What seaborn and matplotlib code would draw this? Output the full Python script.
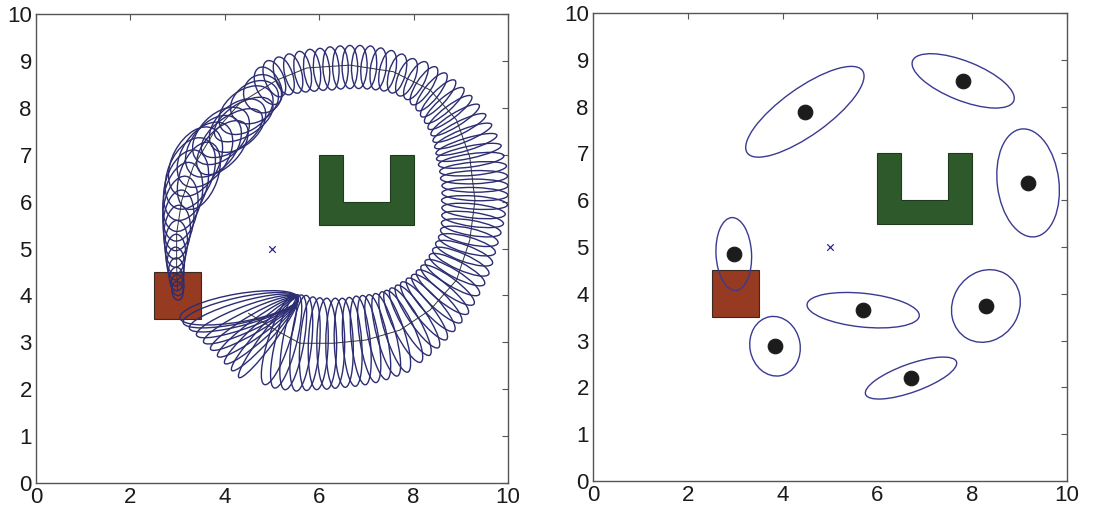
import numpy as np
import pandas as pd
import matplotlib
matplotlib.use("Agg")
import matplotlib.pyplot as plt
from matplotlib.patches import Ellipse, Rectangle, Polygon
import seaborn as sns

# ---------------- data ----------------
# nominal trajectory (left panel), start at red box, loop clockwise
path_x = [3.00, 2.98, 2.98, 3.09, 3.33, 3.76, 4.32, 5.10, 5.74, 6.65, 7.57, 8.35,
          8.91, 9.19, 9.30, 9.19, 8.91, 8.35, 7.71, 7.00, 6.30, 5.59, 5.10, 4.50]
path_y = [4.11, 4.61, 5.33, 6.03, 6.74, 7.46, 8.10, 8.59, 8.85, 8.91, 8.77, 8.38,
          7.74, 6.95, 6.03, 5.18, 4.33, 3.69, 3.26, 3.05, 2.98, 2.98, 3.25, 3.62]

# covariance ellipses along the trajectory: centre, width, height, angle(deg)
ell_x = [3.00, 3.00, 2.98, 2.97, 2.96, 2.96, 2.97, 2.99, 3.02, 3.06, 3.11, 3.18, 3.27,
         3.45, 3.38, 3.58, 3.76, 3.95, 3.92, 4.15, 4.27, 4.40, 4.45, 4.63, 4.80, 4.92,
         5.05, 5.25, 5.45, 5.65, 5.85, 6.05, 6.25, 6.45, 6.65, 6.85, 7.05, 7.25, 7.45, 7.65, 7.85,
         8.05, 8.22, 8.38, 8.52, 8.65, 8.77, 8.88, 8.97, 9.05, 9.12, 9.17,
         9.22, 9.26, 9.28, 9.30, 9.30, 9.29, 9.27, 9.25, 9.22, 9.18,
         9.13, 9.07, 9.00, 8.92, 8.82, 8.72, 8.61, 8.49, 8.36, 8.22, 8.08, 7.93, 7.78,
         7.60, 7.42, 7.24, 7.06, 6.88, 6.70, 6.52, 6.34, 6.16, 5.98, 5.80, 5.62, 5.45, 5.30, 5.15,
         4.925, 4.85, 4.775, 4.70, 4.625, 4.55, 4.475, 4.40, 4.335, 4.30]
ell_y = [4.10, 4.22, 4.35, 4.50, 4.68, 4.88, 5.10, 5.35, 5.60, 5.85, 6.10, 6.35, 6.60,
         6.55, 6.85, 7.00, 7.18, 7.15, 7.40, 7.46, 7.62, 7.75, 7.95, 8.12, 8.30, 8.47,
         8.62, 8.68, 8.73, 8.77, 8.80, 8.82, 8.84, 8.86, 8.87, 8.87, 8.86, 8.83, 8.79, 8.73, 8.65,
         8.58, 8.47, 8.34, 8.20, 8.05, 7.90, 7.74, 7.57, 7.40, 7.22, 7.05,
         6.88, 6.70, 6.52, 6.34, 6.16, 5.98, 5.80, 5.62, 5.44, 5.26,
         5.08, 4.90, 4.72, 4.55, 4.38, 4.22, 4.07, 3.93, 3.80, 3.67, 3.55, 3.44, 3.34,
         3.22, 3.16, 3.11, 3.07, 3.04, 3.01, 2.99, 2.98, 2.97, 2.97, 2.97, 2.98, 3.00, 3.02, 3.05,
         3.10, 3.175, 3.25, 3.325, 3.40, 3.475, 3.55, 3.625, 3.685, 3.735]
ell_w = [0.40, 0.45, 0.50, 0.60, 0.70, 0.85, 1.00, 1.15, 1.30, 1.40, 1.50, 1.55, 1.60,
         1.50, 1.60, 1.55, 1.50, 1.40, 1.45, 1.50, 1.40, 1.40, 1.30, 1.10, 0.80, 0.50,
         0.40, 0.38, 0.36, 0.35, 0.35, 0.34, 0.34, 0.33, 0.33, 0.33, 0.33, 0.33, 0.34, 0.35, 0.36,
         0.35, 0.33, 0.32, 0.30, 0.30, 0.28, 0.28, 0.27, 0.27, 0.26, 0.26,
         0.28, 0.28, 0.28, 0.28, 0.28, 0.28, 0.30, 0.30, 0.32, 0.34,
         0.34, 0.35, 0.35, 0.35, 0.35, 0.36, 0.36, 0.36, 0.37, 0.37, 0.38, 0.38, 0.40,
         0.40, 0.40, 0.40, 0.40, 0.40, 0.40, 0.40, 0.40, 0.42, 0.42, 0.42, 0.44, 0.45, 0.45, 0.45,
         2.11, 2.09, 2.09, 2.11, 2.15, 2.21, 2.29, 2.39, 2.49, 2.54]
ell_h = [0.24, 0.27, 0.30, 0.33, 0.37, 0.42, 0.48, 0.56, 0.64, 0.72, 0.80, 0.88, 0.95,
         0.80, 0.98, 0.96, 0.94, 0.75, 0.92, 0.72, 0.88, 0.70, 0.84, 0.82, 0.82, 0.86,
         0.82, 0.84, 0.86, 0.88, 0.90, 0.90, 0.92, 0.92, 0.92, 0.92, 0.92, 0.90, 0.88, 0.86, 0.85,
         0.90, 0.95, 1.00, 1.05, 1.10, 1.15, 1.20, 1.25, 1.30, 1.35, 1.40,
         1.40, 1.42, 1.42, 1.40, 1.40, 1.40, 1.35, 1.32, 1.28, 1.25,
         1.25, 1.28, 1.30, 1.32, 1.35, 1.38, 1.42, 1.45, 1.50, 1.55, 1.60, 1.65, 1.70,
         1.80, 1.82, 1.85, 1.88, 1.90, 1.90, 1.90, 1.92, 1.94, 1.96, 2.00, 2.05, 2.05, 2.05, 2.00,
         0.30, 0.32, 0.34, 0.36, 0.38, 0.42, 0.46, 0.50, 0.55, 0.60]
ell_a = [95, 95, 92, 90, 90, 88, 87, 85, 83, 80, 77, 73, 68,
         70, 62, 56, 52, 48, 46, 35, 42, 32, 38, 35, 30, 27,
         22, 18, 14, 10, 7, 5, 3, 1, 0, -2, -5, -8, -12, -16, -22,
         -28, -33, -38, -43, -48, -53, -58, -63, -68, -73, -78,
         -82, -85, -88, -90, -92, -94, -96, -98, -100, -103,
         -106, -110, -114, -118, -122, -126, -130, -134, -138, -142, -146, -150, -154,
         18, 15, 12, 9, 6, 4, 2, 0, 0, -2, -4, -6, -10, -14, -18,
         53.7, 47.9, 42.1, 36.3, 30.7, 25.4, 20.4, 15.8, 12.3, 9.8]

# right panel: landmark estimates with their uncertainty ellipses
lm_x = [4.47, 7.81, 9.18, 2.97, 3.84, 5.70, 8.29, 6.71]
lm_y = [7.89, 8.55, 6.37, 4.85, 2.88, 3.65, 3.74, 2.20]
lm_w = [3.00, 2.30, 2.32, 1.56, 1.28, 2.38, 1.60, 2.04]
lm_h = [1.00, 0.84, 1.30, 0.75, 1.06, 0.72, 1.40, 0.60]
lm_a = [36, -22, 97, 93, 100, -6, 60, 20]

# obstacles
red_box = (2.5, 3.5, 1.0, 1.0)                      # x, y, w, h
u_shape_x = [6.0, 6.5, 6.5, 7.5, 7.5, 8.0, 8.0, 6.0]
u_shape_y = [7.0, 7.0, 6.0, 6.0, 7.0, 7.0, 5.5, 5.5]
goal_x, goal_y = [5.0], [5.0]

x_ticks = [0, 2, 4, 6, 8, 10]
y_ticks = list(range(0, 11))

# ---------------- style ----------------
sns.set_theme(style="white")
plt.rcParams['font.family'] = ['Liberation Sans', 'DejaVu Sans']

ELL_COL = "#2c2d72"
RED = "#963a22"
GREEN = "#2e5a2b"

fig = plt.figure(figsize=(11.17, 5.15), dpi=100)
axL = fig.add_axes([0.0322, 0.0621, 0.4226, 0.9107])
axR = fig.add_axes([0.5309, 0.0660, 0.4243, 0.9087])


def base(ax):
    ax.add_patch(Rectangle(red_box[:2], red_box[2], red_box[3], facecolor=RED,
                           edgecolor="#3a2a20", linewidth=0.8, zorder=1))
    ax.add_patch(Polygon(np.column_stack([u_shape_x, u_shape_y]), closed=True,
                         facecolor=GREEN, edgecolor="#203a20", linewidth=0.8, zorder=1))
    sns.scatterplot(x=goal_x, y=goal_y, marker="x", s=22, color="#2a2a90",
                    linewidth=0.9, ax=ax, zorder=5)
    ax.set_xlim(0, 10)
    ax.set_ylim(0, 10)
    ax.set_xticks(x_ticks)
    ax.set_yticks(y_ticks)
    ax.tick_params(direction="in", top=True, right=True, length=4, width=0.8,
                   labelsize=16, labelcolor="#1a1a1a", color="#555555", pad=3)
    for s in ax.spines.values():
        s.set_color("#555555")
        s.set_linewidth(1.0)
    ax.set_xlabel("")
    ax.set_ylabel("")


# left panel
base(axL)
for cx, cy, w, h, a in zip(ell_x, ell_y, ell_w, ell_h, ell_a):
    axL.add_patch(Ellipse((cx, cy), w, h, angle=a, fill=False, edgecolor=ELL_COL,
                          linewidth=1.0, zorder=3))
path_df = pd.DataFrame({"x": path_x, "y": path_y})
sns.lineplot(data=path_df, x="x", y="y", sort=False, estimator=None, color="#303040",
             linewidth=0.7, ax=axL, zorder=4)
axL.set_xlabel("")
axL.set_ylabel("")

# right panel
base(axR)
for cx, cy, w, h, a in zip(lm_x, lm_y, lm_w, lm_h, lm_a):
    axR.add_patch(Ellipse((cx, cy), w, h, angle=a, fill=False, edgecolor="#3a3a92",
                          linewidth=1.0, zorder=3))
sns.scatterplot(x=lm_x, y=lm_y, s=110, color="#1c1c1c", edgecolor="#1c1c1c",
                ax=axR, zorder=4)
axR.set_xlabel("")
axR.set_ylabel("")

fig.savefig("out.png", dpi=100)
